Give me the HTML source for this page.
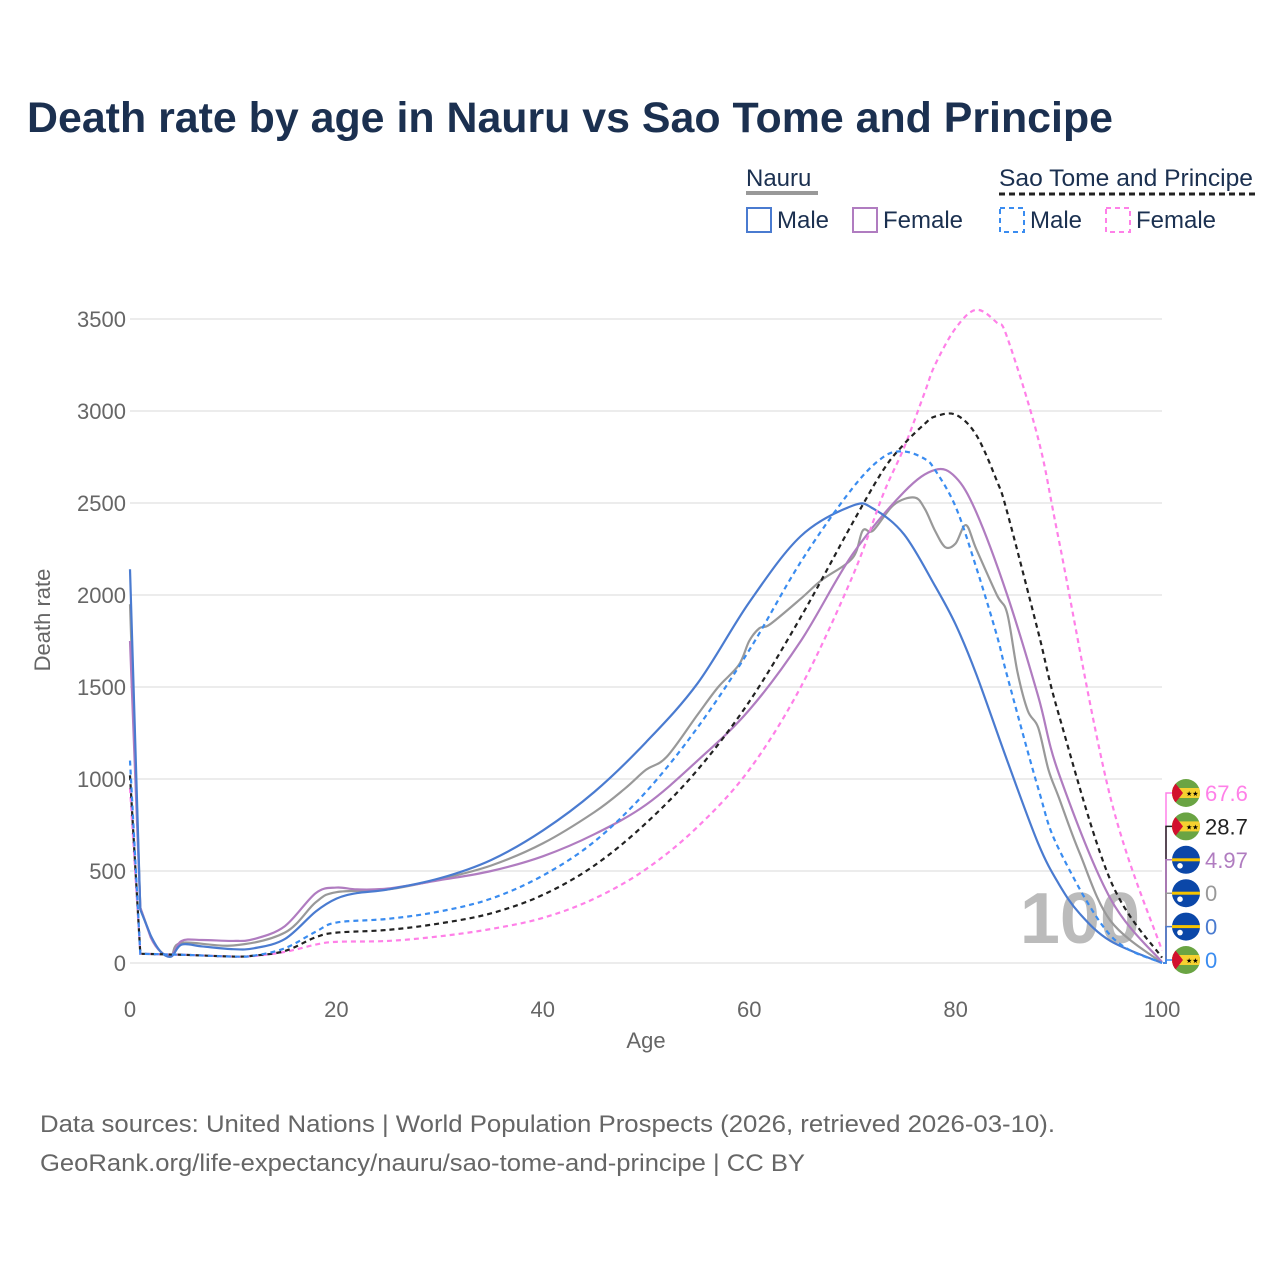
<!DOCTYPE html>
<html><head><meta charset="utf-8">
<style>
html,body{margin:0;padding:0;background:#fff;}
svg{display:block;font-family:"Liberation Sans",sans-serif;}
</style></head>
<body>
<svg id="chart" width="1280" height="1280" viewBox="0 0 1280 1280">
  <text x="27" y="132" font-size="43" font-weight="bold" fill="#1b3050" textLength="1086" lengthAdjust="spacingAndGlyphs">Death rate by age in Nauru vs Sao Tome and Principe</text>
  <g>
    <text x="746" y="186" font-size="24" fill="#1b3050">Nauru</text>
    <line x1="746" y1="193" x2="818" y2="193" stroke="#999" stroke-width="4"/>
    <rect x="747" y="208" width="24" height="24" fill="none" stroke="#4a7bd0" stroke-width="2"/>
    <text x="777" y="228" font-size="24" fill="#1b3050">Male</text>
    <rect x="853" y="208" width="24" height="24" fill="none" stroke="#b07cc0" stroke-width="2"/>
    <text x="883" y="228" font-size="24" fill="#1b3050">Female</text>
    <text x="999" y="186" font-size="24" fill="#1b3050" textLength="254" lengthAdjust="spacingAndGlyphs">Sao Tome and Principe</text>
    <line x1="999" y1="194" x2="1255" y2="194" stroke="#222" stroke-width="3" stroke-dasharray="6,4"/>
    <rect x="1000" y="208" width="24" height="24" fill="none" stroke="#3a8cf0" stroke-width="2" stroke-dasharray="5,4"/>
    <text x="1030" y="228" font-size="24" fill="#1b3050">Male</text>
    <rect x="1106" y="208" width="24" height="24" fill="none" stroke="#ff80e8" stroke-width="2" stroke-dasharray="5,4"/>
    <text x="1136" y="228" font-size="24" fill="#1b3050">Female</text>
  </g>
  <g id="grid"></g>
  <text x="1140" y="943" font-size="72" font-weight="bold" fill="#bbb" text-anchor="end">100</text>
  <g id="series"></g>
  <g id="endlabels"></g>
  <text x="646" y="1048" font-size="22" fill="#666" text-anchor="middle">Age</text>
  <text transform="translate(50,620) rotate(-90)" font-size="22" fill="#666" text-anchor="middle">Death rate</text>
  <text x="40" y="1132" font-size="24" fill="#666" textLength="1015" lengthAdjust="spacingAndGlyphs">Data sources: United Nations | World Population Prospects (2026, retrieved 2026-03-10).</text>
  <text x="40" y="1171" font-size="24" fill="#666" textLength="765" lengthAdjust="spacingAndGlyphs">GeoRank.org/life-expectancy/nauru/sao-tome-and-principe | CC BY</text>
</svg>
<script>
const yTicks = [0,500,1000,1500,2000,2500,3000,3500];
const xTicks = [0,20,40,60,80,100];
const nauruTotalAges = [0,1,2,3,4,5,10,15,18,20,25,30,35,40,45,48,50,52,55,57,59,60,61,62,65,67,70,71,72,74,76,77,78,79,80,81,82,84,85,86,87,88,89,90,92,95,100];
const nauruTotal = [1950,300,145,60,38,110,95,165,330,385,400,455,530,650,820,950,1050,1120,1350,1500,1620,1750,1820,1840,1980,2080,2200,2350,2350,2490,2530,2470,2350,2260,2280,2380,2250,2000,1900,1580,1370,1280,1050,900,600,230,0];
const nauruMaleAges = [0,1,2,3,4,5,7,10,12,15,18,20,22,25,30,35,40,45,50,55,60,65,70,72,75,78,80,82,85,88,90,92,95,100];
const nauruMale = [2140,290,150,60,35,100,90,75,80,130,280,350,380,400,460,560,720,930,1200,1520,1960,2320,2485,2470,2330,2050,1840,1570,1100,650,430,270,120,0];
const nauruFemaleAges = [0,1,2,3,4,5,7,10,12,15,18,20,22,25,30,35,40,45,50,55,60,65,70,75,78,80,82,85,88,90,95,100];
const nauruFemale = [1750,300,140,60,40,120,125,120,130,200,380,410,400,405,450,500,580,700,860,1100,1375,1750,2220,2560,2680,2640,2450,2000,1450,1030,350,5];
const stpAges = [0,1,5,10,12,15,18,20,25,30,35,40,45,50,55,60,65,70,73,75,77,78,80,82,84,85,88,90,95,100];
const stpMale = [1100,50,45,35,40,80,170,220,240,280,350,475,660,930,1280,1700,2180,2580,2750,2780,2740,2680,2480,2150,1780,1560,950,620,150,0];
const stpTotal = [1020,50,45,35,40,65,140,165,180,215,270,370,530,760,1050,1420,1880,2390,2680,2820,2930,2970,2980,2870,2620,2450,1800,1350,450,29];
const stpFemale = [950,50,45,35,38,60,100,115,120,145,185,245,350,510,740,1050,1500,2100,2550,2800,3100,3250,3450,3550,3480,3400,2850,2300,900,68];
const endValues = ['67.6','28.7','4.97','0','0','0'];

const X = a => 130 + a * 10.32;
const Y = v => 963 - v * 0.184;
const NS = 'http://www.w3.org/2000/svg';
const grid = document.getElementById('grid');
yTicks.forEach(t => {
  const l = document.createElementNS(NS,'line');
  l.setAttribute('x1',130); l.setAttribute('x2',1162);
  l.setAttribute('y1',Y(t)); l.setAttribute('y2',Y(t));
  l.setAttribute('stroke','#e6e6e6'); l.setAttribute('stroke-width','1.5');
  
  
  grid.appendChild(l);
  const tx = document.createElementNS(NS,'text');
  tx.setAttribute('x',126); tx.setAttribute('y',Y(t)+8);
  tx.setAttribute('text-anchor','end'); tx.setAttribute('font-size','22'); tx.setAttribute('fill','#666');
  tx.textContent = t;
  
  
  grid.appendChild(tx);
});
xTicks.forEach(t => {
  const tx = document.createElementNS(NS,'text');
  tx.setAttribute('x',X(t)); tx.setAttribute('y',1017);
  tx.setAttribute('text-anchor','middle'); tx.setAttribute('font-size','22'); tx.setAttribute('fill','#666');
  tx.textContent = t;
  
  
  grid.appendChild(tx);
});
function pathFor(ages, vals){
  const p = ages.map((a,i)=>[X(a),Y(vals[i])]);
  let d = 'M'+p[0][0]+','+p[0][1];
  for(let i=0;i<p.length-1;i++){
    const p0=p[Math.max(0,i-1)],p1=p[i],p2=p[i+1],p3=p[Math.min(p.length-1,i+2)];
    const t = (i<2)?0:1/6;
    const c1=[p1[0]+(p2[0]-p0[0])*t,p1[1]+(p2[1]-p0[1])*t];
    const c2=[p2[0]-(p3[0]-p1[0])*t,p2[1]-(p3[1]-p1[1])*t];
    d+=' C'+c1[0]+','+c1[1]+' '+c2[0]+','+c2[1]+' '+p2[0]+','+p2[1];
  }
  return d;
}
const series = document.getElementById('series');
function addLine(ages, vals, color, dash, name){
  const el = document.createElementNS(NS,'path');
  el.setAttribute('d', pathFor(ages, vals));
  el.setAttribute('fill','none'); el.setAttribute('stroke',color); el.setAttribute('stroke-width','2.2');
  if(dash) el.setAttribute('stroke-dasharray',dash);
  
  
  series.appendChild(el);
}
addLine(nauruTotalAges, nauruTotal, '#999', null, 'nauru-total-line');
addLine(nauruFemaleAges, nauruFemale, '#b07cc0', null, 'nauru-female-line');
addLine(nauruMaleAges, nauruMale, '#4a7bd0', null, 'nauru-male-line');
addLine(stpAges, stpFemale, '#ff80e8', '5,4', 'stp-female-line');
addLine(stpAges, stpTotal, '#222', '5,4', 'stp-total-line');
addLine(stpAges, stpMale, '#3a8cf0', '5,4', 'stp-male-line');

const endl = document.getElementById('endlabels');
const labelColors = ['#ff80e8','#222','#b07cc0','#999','#4a7bd0','#3a8cf0'];
const labelFlags = ['stp','stp','nauru','nauru','nauru','stp'];
endValues.forEach((v,i)=>{
  const cy = 793 + i*33.4;
  const g = document.createElementNS(NS,'g');
  
  
  const c = labelColors[i];
  g.innerHTML = `<path d="M1163,963 L1166,963 L1166,${cy} L1172,${cy}" fill="none" stroke="${c}" stroke-width="1.5"/>`;
  if(labelFlags[i]==='stp'){
    g.innerHTML += `<clipPath id="cf${i}"><circle cx="1186" cy="${cy}" r="14"/></clipPath>
    <g clip-path="url(#cf${i})"><rect x="1172" y="${cy-14}" width="28" height="28" fill="#6aa443"/><rect x="1172" y="${cy-5}" width="28" height="10" fill="#f5d130"/><path d="M1172,${cy-14} L1183,${cy} L1172,${cy+14}Z" fill="#d2102e"/><text x="1186" y="${cy+3}" font-size="7" fill="#000">★★</text></g>`;
  } else {
    g.innerHTML += `<circle cx="1186" cy="${cy}" r="14" fill="#0b47a8"/><rect x="1172" y="${cy-1.5}" width="28" height="3" fill="#f5c400"/><circle cx="1180" cy="${cy+6}" r="2.8" fill="#fff"/>`;
  }
  g.innerHTML += `<text x="1205" y="${cy+8}" font-size="22" fill="${c}">${v}</text>`;
  endl.appendChild(g);
});
</script>
</body></html>
